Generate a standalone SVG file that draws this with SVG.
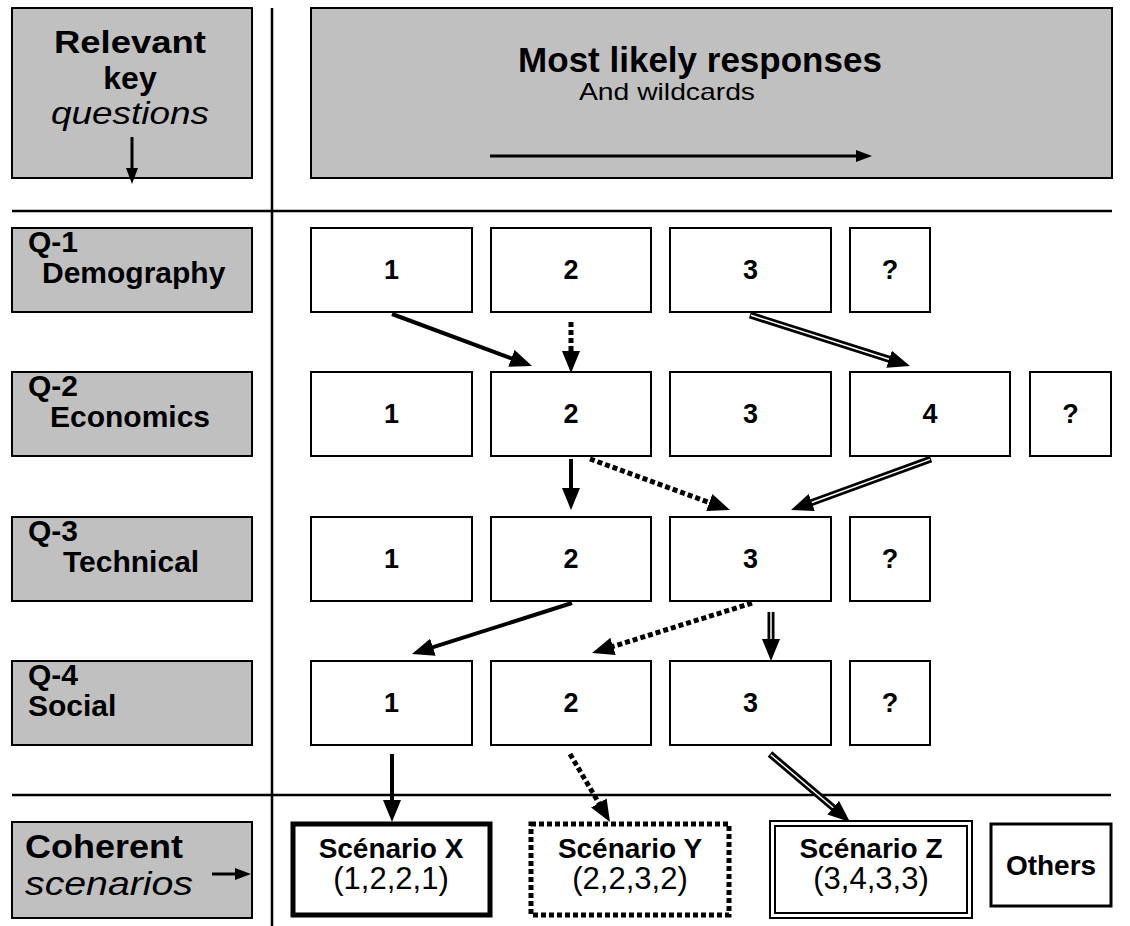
<svg xmlns="http://www.w3.org/2000/svg" width="1130" height="926" viewBox="0 0 1130 926">
<style>
text{font-family:"Liberation Sans",Arial,sans-serif;fill:#000}
.g{fill:#c0c0c0;stroke:#000;stroke-width:2}
.w{fill:#fff;stroke:#000;stroke-width:2}
.b{font-weight:bold}
.big{font-size:32px}
.q{font-size:30px;font-weight:bold}
.n{font-size:27px;font-weight:bold;text-anchor:middle}
.st{font-size:28px;font-weight:bold;text-anchor:middle}
.tu{font-size:31px;text-anchor:middle}
.sep{stroke:#000;stroke-width:2.5}
.s{stroke:#000;stroke-width:4;fill:none;marker-end:url(#ah)}
.d{stroke:#000;stroke-width:5;fill:none;stroke-dasharray:5 3;marker-end:url(#ah)}
.dbk{stroke:#000;stroke-width:7;fill:none;marker-end:url(#ah)}
.dwh{stroke:#fff;stroke-width:1.5;fill:none}
.thin{stroke:#000;stroke-width:3;fill:none;marker-end:url(#ahs)}
</style>
<defs>
<marker id="ah" viewBox="0 0 22 18" markerWidth="22" markerHeight="18" markerUnits="userSpaceOnUse" refX="8" refY="9" orient="auto"><path d="M0,0 L22,9 L0,18 z" fill="#000"/></marker>
<marker id="ahs" viewBox="0 0 16 12" markerWidth="16" markerHeight="12" markerUnits="userSpaceOnUse" refX="4" refY="6" orient="auto"><path d="M0,0 L16,6 L0,12 z" fill="#000"/></marker>
</defs>
<rect width="1130" height="926" fill="#fff"/>
<g id="grid">
<line class="sep" x1="272" y1="8" x2="272" y2="926"/>
<line class="sep" x1="12" y1="211" x2="1112" y2="211"/>
<line class="sep" x1="12" y1="795" x2="1111" y2="795"/>
</g>
<g id="header-questions">
<rect class="g" x="12" y="8" width="240" height="170"/>
<text class="b big" x="130" y="53" text-anchor="middle" textLength="152" lengthAdjust="spacingAndGlyphs">Relevant</text>
<text class="b big" x="130" y="89" text-anchor="middle">key</text>
<text class="big" x="130" y="124" text-anchor="middle" font-style="italic" textLength="158" lengthAdjust="spacingAndGlyphs">questions</text>
</g>
<g id="header-responses">
<rect class="g" x="311" y="8" width="801" height="170"/>
<text class="b" x="700" y="72" font-size="35" text-anchor="middle">Most likely responses</text>
<text x="667" y="100" font-size="24" text-anchor="middle" textLength="176" lengthAdjust="spacingAndGlyphs">And wildcards</text>
</g>
<g id="q1"><rect class="g" x="12" y="228" width="240" height="84"/><text class="q" x="28" y="252">Q-1</text><text class="q" x="42" y="283">Demography</text></g>
<g id="q2"><rect class="g" x="12" y="372" width="240" height="84"/><text class="q" x="28" y="396">Q-2</text><text class="q" x="50" y="427">Economics</text></g>
<g id="q3"><rect class="g" x="12" y="517" width="240" height="84"/><text class="q" x="28" y="541">Q-3</text><text class="q" x="63" y="572">Technical</text></g>
<g id="q4"><rect class="g" x="12" y="661" width="240" height="84"/><text class="q" x="28" y="685">Q-4</text><text class="q" x="28" y="716">Social</text></g>
<g id="coherent"><rect class="g" x="12" y="822" width="240" height="96"/><text class="b" x="25" y="858" font-size="33" textLength="158" lengthAdjust="spacingAndGlyphs">Coherent</text><text x="25" y="895" font-size="33" font-style="italic" textLength="168" lengthAdjust="spacingAndGlyphs">scenarios</text></g>

<g id="q1-1"><rect class="w" x="311" y="228" width="161" height="84"/><text class="n" x="391.5" y="279">1</text></g>
<g id="q1-2"><rect class="w" x="491" y="228" width="160" height="84"/><text class="n" x="571" y="279">2</text></g>
<g id="q1-3"><rect class="w" x="670" y="228" width="161" height="84"/><text class="n" x="750.5" y="279">3</text></g>
<g id="q1-x"><rect class="w" x="850" y="228" width="80" height="84"/><text class="n" x="890" y="279">?</text></g>

<g id="q2-1"><rect class="w" x="311" y="372" width="161" height="84"/><text class="n" x="391.5" y="423">1</text></g>
<g id="q2-2"><rect class="w" x="491" y="372" width="160" height="84"/><text class="n" x="571" y="423">2</text></g>
<g id="q2-3"><rect class="w" x="670" y="372" width="161" height="84"/><text class="n" x="750.5" y="423">3</text></g>
<g id="q2-4"><rect class="w" x="850" y="372" width="160" height="84"/><text class="n" x="930" y="423">4</text></g>
<g id="q2-x"><rect class="w" x="1030" y="372" width="81" height="84"/><text class="n" x="1070.5" y="423">?</text></g>

<g id="q3-1"><rect class="w" x="311" y="517" width="161" height="84"/><text class="n" x="391.5" y="568">1</text></g>
<g id="q3-2"><rect class="w" x="491" y="517" width="160" height="84"/><text class="n" x="571" y="568">2</text></g>
<g id="q3-3"><rect class="w" x="670" y="517" width="161" height="84"/><text class="n" x="750.5" y="568">3</text></g>
<g id="q3-x"><rect class="w" x="850" y="517" width="80" height="84"/><text class="n" x="890" y="568">?</text></g>

<g id="q4-1"><rect class="w" x="311" y="661" width="161" height="84"/><text class="n" x="391.5" y="712">1</text></g>
<g id="q4-2"><rect class="w" x="491" y="661" width="160" height="84"/><text class="n" x="571" y="712">2</text></g>
<g id="q4-3"><rect class="w" x="670" y="661" width="161" height="84"/><text class="n" x="750.5" y="712">3</text></g>
<g id="q4-x"><rect class="w" x="850" y="661" width="80" height="84"/><text class="n" x="890" y="712">?</text></g>

<g id="scen-x"><rect x="293" y="824" width="197" height="91" fill="#fff" stroke="#000" stroke-width="5"/><text class="st" x="391" y="858">Scénario X</text><text class="tu" x="391" y="889">(1,2,2,1)</text></g>
<g id="scen-y"><rect x="531" y="824" width="198" height="91" fill="#fff" stroke="#000" stroke-width="5" stroke-dasharray="5 3"/><text class="st" x="630" y="858">Scénario Y</text><text class="tu" x="630" y="889">(2,2,3,2)</text></g>
<g id="scen-z"><rect x="770" y="821" width="202" height="97" fill="#fff" stroke="#000" stroke-width="2"/><rect x="775" y="826" width="192" height="87" fill="none" stroke="#000" stroke-width="2"/><text class="st" x="871" y="858">Scénario Z</text><text class="tu" x="871" y="889">(3,4,3,3)</text></g>
<g id="others"><rect x="991" y="824" width="120" height="82" fill="#fff" stroke="#000" stroke-width="3"/><text class="st" x="1051" y="875" font-size="31">Others</text></g>

<g id="connectors">
<line class="thin" x1="490" y1="156" x2="860" y2="156"/>
<line class="thin" x1="132" y1="137" x2="132" y2="172"/>
<line class="thin" x1="212" y1="874" x2="239" y2="874"/>
<line class="s" x1="392" y1="314" x2="518.9" y2="361.1"/>
<line class="d" x1="571" y1="322" x2="571" y2="359"/>
<line class="dbk" x1="750" y1="315" x2="896.7" y2="361.7"/><line class="dwh" x1="751" y1="315.3" x2="889" y2="359.3"/>
<line class="s" x1="571" y1="459" x2="571" y2="496"/>
<line class="d" x1="590" y1="459" x2="716.8" y2="505.2"/>
<line class="dbk" x1="931" y1="459" x2="804.2" y2="505.2"/><line class="dwh" x1="930" y1="459.4" x2="811.7" y2="502.5"/>
<line class="s" x1="572" y1="603" x2="425.3" y2="649.7"/>
<line class="d" x1="752" y1="603" x2="605.4" y2="648.8"/>
<line class="dbk" x1="771" y1="612" x2="771" y2="647"/><line class="dwh" x1="771" y1="612" x2="771" y2="639"/>
<line class="s" x1="392" y1="754" x2="392" y2="808"/>
<line class="d" x1="570" y1="754" x2="602.9" y2="809.9"/>
<line class="dbk" x1="770" y1="754" x2="839.3" y2="812.9"/><line class="dwh" x1="770.8" y1="754.7" x2="833.2" y2="807.7"/>
</g>
</svg>
